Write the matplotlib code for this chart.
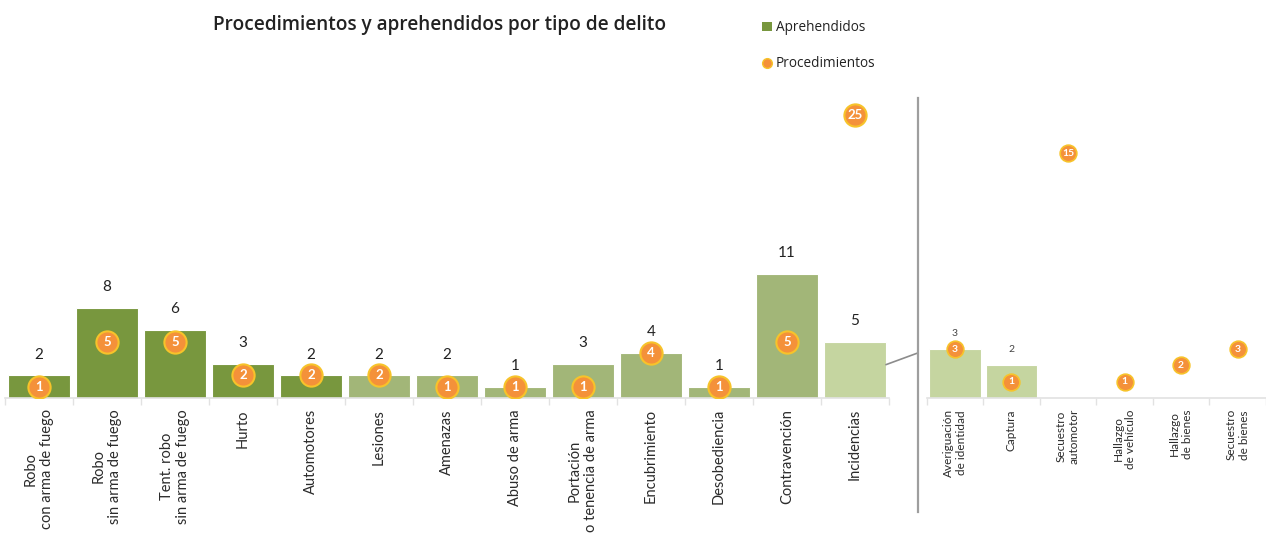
import matplotlib
matplotlib.use("Agg")
import matplotlib.pyplot as plt
import numpy as np
from matplotlib.patches import Patch, ConnectionPatch
from matplotlib.lines import Line2D

plt.rcParams['font.family'] = ['Lato', 'DejaVu Sans']

# ---- data ----
categories_main = ["Robo\ncon arma de fuego", "Robo\nsin arma de fuego", "Tent. robo\nsin arma de fuego",
                   "Hurto", "Automotores", "Lesiones", "Amenazas", "Abuso de arma",
                   "Portación\no tenencia de arma", "Encubrimiento", "Desobediencia",
                   "Contravención", "Incidencias"]
aprehendidos_main = [2, 8, 6, 3, 2, 2, 2, 1, 3, 4, 1, 11, 5]
procedimientos_main = [1, 5, 5, 2, 2, 2, 1, 1, 1, 4, 1, 5, 25]
shade_main = ["dark"] * 5 + ["mid"] * 7 + ["light"]

categories_inc = ["Averiguación\nde identidad", "Captura", "Secuestro\nautomotor",
                  "Hallazgo\nde vehículo", "Hallazgo\nde bienes", "Secuestro\nde bienes"]
aprehendidos_inc = [3, 2, 0, 0, 0, 0]
procedimientos_inc = [3, 1, 15, 1, 2, 3]

title = "Procedimientos y aprehendidos por tipo de delito"

# ---- style ----
greens = {"dark": "#78973e", "mid": "#a2b678", "light": "#c5d5a0"}
orange = "#f4913a"
orange_edge = "#f7c32a"
W, H = 1266, 536

fig = plt.figure(figsize=(W / 100, H / 100), dpi=100)

def fx(px):
    return px / W

def fy(py):
    return 1 - py / H

base = 398
top = 93
axm = fig.add_axes([fx(5), fy(base), fx(889) - fx(5), fy(top) - fy(base)])
axr = fig.add_axes([fx(926.5), fy(base), fx(1266) - fx(926.5), fy(top) - fy(base)])

def style_axis(ax, n, labels, fs):
    for s in ["top", "right", "left"]:
        ax.spines[s].set_visible(False)
    ax.spines["bottom"].set_color("#e2e2e2")
    ax.spines["bottom"].set_linewidth(1.2)
    ax.set_yticks([])
    ax.set_xticks(np.arange(n))
    ax.set_xticklabels(labels, rotation=90, fontsize=fs, color="#2b2b2b",
                       ha="center", va="top", multialignment="center")
    ax.tick_params(axis="x", which="major", length=0, pad=8)
    ax.set_xticks(np.arange(n + 1) - 0.5, minor=True)
    ax.tick_params(axis="x", which="minor", length=5, color="#e2e2e2", width=1)
    ax.patch.set_alpha(0)

# main axes
xm = np.arange(len(categories_main))
axm.bar(xm, aprehendidos_main, width=0.91, color=[greens[s] for s in shade_main],
        edgecolor="white", linewidth=0.8, zorder=2)
for x, v in zip(xm, aprehendidos_main):
    axm.annotate(str(v), (x, v), xytext=(0, 10), textcoords="offset points",
                 ha="center", va="bottom", fontsize=11, color="#222222")
axm.plot(xm, procedimientos_main, "o", ms=16, mfc=orange, mec=orange_edge, mew=1.5,
         ls="none", zorder=3)
for x, v in zip(xm, procedimientos_main):
    axm.text(x, v, str(v), ha="center", va="center", fontsize=9.5, color="white",
             fontweight="bold", zorder=4)
axm.set_xlim(-0.5, len(categories_main) - 0.5)
axm.set_ylim(0, (base - top) / 11.3)
style_axis(axm, len(categories_main), categories_main, 10.5)

# right axes
xr = np.arange(len(categories_inc))
axr.bar(xr, aprehendidos_inc, width=0.91, color=greens["light"],
        edgecolor="white", linewidth=0.8, zorder=2)
for x, v in zip(xr, aprehendidos_inc):
    if v > 0:
        axr.annotate(str(v), (x, v), xytext=(0, 8), textcoords="offset points",
                     ha="center", va="bottom", fontsize=7.5, color="#444444")
axr.plot(xr, procedimientos_inc, "o", ms=12, mfc=orange, mec=orange_edge, mew=1.2,
         ls="none", zorder=3)
for x, v in zip(xr, procedimientos_inc):
    axr.text(x, v, str(v), ha="center", va="center", fontsize=7.5, color="white",
             fontweight="bold", zorder=4)
axr.set_xlim(-0.5, len(categories_inc) - 0.5 - 2.5 / 57)
axr.set_ylim(0, (base - top) / 16.3)
style_axis(axr, len(categories_inc), categories_inc, 8.5)

# separator and connector
fig.add_artist(Line2D([fx(917.7), fx(917.7)], [fy(98), fy(512)], transform=fig.transFigure,
                      color="#9e9e9e", lw=1.6))
con = ConnectionPatch(xyA=(len(categories_main) - 1 + 0.455, 2.95), coordsA=axm.transData,
                      xyB=(fx(917.7), fy(353)), coordsB=fig.transFigure,
                      color="#8c8c8c", lw=1.2)
fig.add_artist(con)

# title
fig.text(fx(440), fy(25), title, ha="center", va="center", fontsize=13.7,
         fontweight="semibold", color="#222222", family=["Open Sans", "DejaVu Sans"])

# legend
handles = [Patch(facecolor=greens["dark"], edgecolor="none"),
           Line2D([], [], marker="o", ls="none", ms=7, mfc=orange, mec=orange_edge, mew=1)]
leg = fig.legend(handles, ["Aprehendidos", "Procedimientos"], loc="upper left",
                 bbox_to_anchor=(fx(750), fy(8)), frameon=False,
                 prop={"family": ["Open Sans", "DejaVu Sans"], "size": 9.8},
                 handlelength=0.7, handleheight=0.7, handletextpad=0.3, labelspacing=1.55)
for t in leg.get_texts():
    t.set_color("#222222")

fig.savefig("out.png", dpi=100)
